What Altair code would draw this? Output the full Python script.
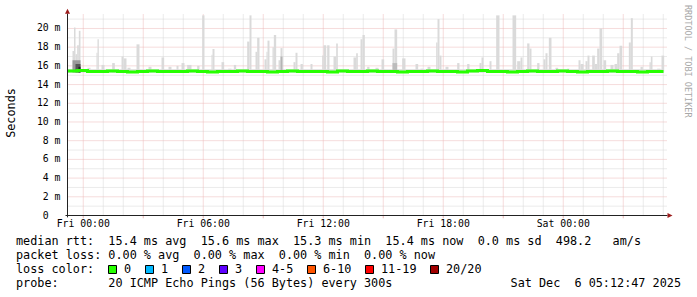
import altair as alt
import pandas as pd

# ---------------- data ----------------
window_start = "2025-12-04 23:12:47"
window_end = "2025-12-06 05:12:47"
x_label_times = ["2025-12-05 00:00", "2025-12-05 06:00", "2025-12-05 12:00",
                 "2025-12-05 18:00", "2025-12-06 00:00"]
x_label_text = ["Fri 00:00", "Fri 06:00", "Fri 12:00", "Fri 18:00", "Sat 00:00"]
y_tick_values = [0, 2, 4, 6, 8, 10, 12, 14, 16, 18, 20]
y_tick_text = ["0", "2 m", "4 m", "6 m", "8 m", "10 m", "12 m", "14 m", "16 m", "18 m", "20 m"]
y_max = 21.6

# smoke (light grey): minutes after window start, top in ms
smoke_start = [15, 19.5, 24, 29, 34, 60, 87, 90, 102, 134,
               162, 168, 180, 207, 243, 282, 303, 327, 342, 359,
               389, 404, 432, 435, 462, 482, 499, 539, 546, 564,
               569, 591, 597, 600, 615, 619, 633, 639, 678, 684,
               699, 729, 764, 768, 779, 798, 806, 858, 866, 879,
               885, 899, 924, 942, 975, 981, 1004, 1044, 1059, 1080,
               1106, 1110, 1116, 1134, 1169, 1199, 1236, 1242, 1266, 1286,
               1335, 1349, 1359, 1379, 1386, 1409, 1428, 1434, 1444, 1464,
               1499, 1533, 1539, 1554, 1560, 1574, 1582, 1589, 1596, 1608,
               1629, 1641, 1649, 1656, 1684, 1690, 1719, 1746, 1750, 1769,
               1782]
smoke_end = [19.5, 24, 29, 34, 39, 69, 90, 94, 111, 142,
             168, 177, 189, 216, 252, 290, 312, 333, 351, 372,
             396, 411, 435, 441, 470, 492, 506, 546, 552, 569,
             576, 597, 600, 606, 619, 626, 639, 645, 684, 690,
             706, 735, 768, 776, 786, 806, 811, 866, 871, 885,
             892, 906, 933, 950, 981, 989, 1014, 1052, 1068, 1089,
             1110, 1116, 1122, 1143, 1176, 1206, 1242, 1248, 1272, 1296,
             1346, 1359, 1365, 1386, 1392, 1416, 1434, 1440, 1452, 1472,
             1506, 1539, 1548, 1560, 1566, 1582, 1589, 1596, 1604, 1616,
             1638, 1649, 1656, 1664, 1690, 1696, 1726, 1750, 1755, 1779,
             1790]
smoke_top = [17.6, 20.1, 17.25, 18.2, 19.75, 15.8, 17.4, 18.85, 16.1, 16.3,
             17.0, 16.8, 15.8, 18.3, 15.9, 16.9, 15.9, 16.0, 16.3, 16.1,
             16.0, 21.4, 17.2, 17.8, 16.4, 15.7, 16.1, 18.6, 21.4, 17.5,
             19.0, 16.7, 17.5, 18.7, 18.0, 19.3, 16.6, 17.9, 16.4, 17.4,
             16.2, 16.2, 17.1, 18.2, 18.2, 17.0, 18.4, 16.9, 17.35, 18.85,
             19.3, 15.9, 15.8, 16.7, 17.85, 19.9, 16.8, 16.2, 15.7, 15.9,
             18.5, 21.0, 17.1, 15.9, 16.3, 16.2, 16.3, 16.9, 16.5, 21.4,
             21.4, 16.5, 16.9, 18.4, 17.85, 16.3, 16.7, 17.35, 19.0, 15.8,
             15.7, 16.6, 16.2, 16.5, 17.1, 17.1, 16.2, 17.85, 20.0, 16.6,
             16.1, 16.2, 17.35, 18.15, 18.5, 21.1, 15.9, 16.4, 17.0, 15.7,
             17.1]
smoke_floor = 15.3
smoke_base_top = 15.65
data_end_min = 1788

# darker smoke (inner percentiles)
dark_start = [15, 24, 33, 639, 975]
dark_end = [39, 39, 39, 645, 989]
dark_top = [16.6, 16.2, 15.9, 17.0, 16.3]
dark_shade = ["#9a9a9a", "#555555", "#222222", "#b4b4b4", "#bcbcbc"]

# median rtt, 30-minute steps
median_ms = [15.45, 15.5, 15.4, 15.4, 15.45, 15.4, 15.35, 15.4, 15.45, 15.4,
             15.4, 15.4, 15.45, 15.4, 15.35, 15.4, 15.4, 15.45, 15.4, 15.4,
             15.35, 15.4, 15.45, 15.4, 15.4, 15.4, 15.35, 15.45, 15.4, 15.4,
             15.45, 15.4, 15.4, 15.35, 15.4, 15.4, 15.45, 15.4, 15.4, 15.35,
             15.45, 15.5, 15.4, 15.4, 15.35, 15.4, 15.45, 15.4, 15.4, 15.45,
             15.4, 15.35, 15.4, 15.4, 15.45, 15.4, 15.4, 15.35, 15.4, 15.4]

rtt_label = "median rtt:"
rtt_stats = ["15.4 ms avg", "15.6 ms max", "15.3 ms min", "15.4 ms now", "0.0 ms sd", "498.2"]
rtt_unit = "am/s"
loss_label = "packet loss:"
loss_stats = ["0.00 % avg", "0.00 % max", "0.00 % min", "0.00 % now"]
color_label = "loss color:"
loss_bins = ["0", "1", "2", "3", "4-5", "6-10", "11-19", "20/20"]
loss_colors = ["#26ff00", "#00b8ff", "#0059ff", "#5e00ff", "#ff00ff", "#ff5500", "#ff0000", "#a10000"]
probe_label = "probe:"
probe_text = "20 ICMP Echo Pings (56 Bytes) every 300s"
stamp_text = "Sat Dec  6 05:12:47 2025"
watermark = "RRDTOOL / TOBI OETIKER"
y_title = "Seconds"

# ---------------- layout / style ----------------
PAD_L, PAD_T = 67.5, 13.5
W, H = 600, 202
MONO = "DejaVu Sans Mono"
CW = 7.1          # legend char advance
LEG = 11.8        # legend font size
AXF = 9.8         # axis font size
ACW = 5.9         # axis char advance
GRID = "#d6d6d6"
MGRID = "#ecb8b8"
ARROW = "#9c1c1c"
AXIS = "#222222"
NB = "\u00a0"

t0 = pd.Timestamp(window_start)
span = (pd.Timestamp(window_end) - t0).total_seconds() / 60.0
XS = alt.Scale(domain=[0, span], nice=False, zero=False)
YS = alt.Scale(domain=[0, y_max], nice=False, zero=False)

def minutes(ts):
    return (pd.Timestamp(ts) - t0).total_seconds() / 60.0

def nb(s):
    return s.replace(" ", NB)

first_hour = minutes(x_label_times[0])
hours = []
k = 0
while first_hour + 60 * k <= span:
    hours.append(first_hour + 60 * k)
    k += 1
grid_v = pd.DataFrame({"t": hours, "major": [i % 3 == 0 for i in range(len(hours))]})
grid_h = pd.DataFrame({"v": list(range(1, 22))})
grid_h["major"] = grid_h["v"] % 2 == 0

smoke = pd.DataFrame({"s": smoke_start, "e": smoke_end, "top": smoke_top})
smoke["low"] = smoke_floor
dark = pd.DataFrame({"s": dark_start, "e": dark_end, "top": dark_top, "c": dark_shade})
dark["low"] = smoke_floor
base = pd.DataFrame({"s": [0], "e": [data_end_min], "low": [smoke_floor], "top": [smoke_base_top]})
med = pd.DataFrame({"t": [30 * i for i in range(len(median_ms))] + [data_end_min],
                    "v": median_ms + [median_ms[-1]]})
xlab = pd.DataFrame({"t": [minutes(s) for s in x_label_times], "lab": x_label_text})
# labels are laid out as "%s %s" with an empty unit for zero -> left edge shared with "2 m"
ylab = pd.DataFrame({"v": y_tick_values, "lab": [nb(s) for s in y_tick_text]})
ylab["pad"] = [0 if " " in s else 2 for s in y_tick_text]
one = pd.DataFrame({"k": [0]})

def txt(s, X, Y, size=LEG, align="left", baseline="alphabetic", color="#000000", angle=0, font=MONO):
    return alt.Chart(one).mark_text(text=nb(s), align=align, baseline=baseline, font=font,
                                    fontSize=size, color=color, angle=angle).encode(
        x=alt.value(X - PAD_L), y=alt.value(Y - PAD_T))

layers = []
# grid
for df_major, col in [(False, GRID), (True, MGRID)]:
    layers.append(alt.Chart(grid_v[grid_v["major"] == df_major]).mark_rule(
        color=col, strokeDash=[1, 1], strokeWidth=1).encode(
        x=alt.X("t:Q", scale=XS, axis=None),
        y=alt.YDatum(0, scale=YS, axis=None), y2=alt.Y2Datum(y_max)))
    layers.append(alt.Chart(grid_h[grid_h["major"] == df_major]).mark_rule(
        color=col, strokeDash=[1, 1], strokeWidth=1).encode(
        y=alt.Y("v:Q", scale=YS, axis=None),
        x=alt.XDatum(0, scale=XS, axis=None), x2=alt.X2Datum(span)))
# small red ticks below x axis
layers.append(alt.Chart(grid_v[grid_v["major"]]).mark_rule(color=MGRID, strokeWidth=1).encode(
    x=alt.X("t:Q", scale=XS, axis=None),
    y=alt.YDatum(0, scale=YS, axis=None), y2=alt.Y2Datum(-0.3)))
# smoke
layers.append(alt.Chart(base).mark_rect(color="#dadada").encode(
    x=alt.X("s:Q", scale=XS, axis=None), x2="e:Q",
    y=alt.Y("low:Q", scale=YS, axis=None), y2="top:Q"))
layers.append(alt.Chart(smoke).mark_rect(color="#dadada").encode(
    x=alt.X("s:Q", scale=XS, axis=None), x2="e:Q",
    y=alt.Y("low:Q", scale=YS, axis=None), y2="top:Q"))
layers.append(alt.Chart(dark).mark_rect().encode(
    x=alt.X("s:Q", scale=XS, axis=None), x2="e:Q",
    y=alt.Y("low:Q", scale=YS, axis=None), y2="top:Q",
    color=alt.Color("c:N", scale=None)))
# median
layers.append(alt.Chart(med).mark_line(color="#26ff00", strokeWidth=3, interpolate="step-after").encode(
    x=alt.X("t:Q", scale=XS, axis=None), y=alt.Y("v:Q", scale=YS, axis=None)))
# axes lines
layers.append(alt.Chart(one).mark_rule(color=AXIS, strokeWidth=1).encode(
    x=alt.XDatum(-6, scale=XS, axis=None), x2=alt.X2Datum(span),
    y=alt.YDatum(0, scale=YS, axis=None)))
layers.append(alt.Chart(one).mark_rule(color=AXIS, strokeWidth=1).encode(
    x=alt.XDatum(0, scale=XS, axis=None),
    y=alt.YDatum(-0.2, scale=YS, axis=None), y2=alt.Y2Datum(y_max)))
# arrows
layers.append(alt.Chart(one).mark_point(shape="M0,-1L1,1L-1,1Z", filled=True, size=25, color=ARROW,
                                         opacity=1, strokeWidth=0).encode(
    x=alt.XDatum(0, scale=XS, axis=None), y=alt.YDatum(21.83, scale=YS, axis=None)))
layers.append(alt.Chart(one).mark_point(shape="M1,0L-1,-1L-1,1Z", filled=True, size=25, color=ARROW,
                                         opacity=1, strokeWidth=0).encode(
    x=alt.XDatum(span + 7.5, scale=XS, axis=None), y=alt.YDatum(0, scale=YS, axis=None)))
# x labels
layers.append(alt.Chart(xlab).mark_text(font=MONO, fontSize=AXF, align="center", baseline="alphabetic",
                                        dy=11.5, color="#000000").encode(
    x=alt.X("t:Q", scale=XS, axis=None), y=alt.YDatum(0, scale=YS, axis=None), text="lab:N"))
# y labels (right-aligned; the bare zero keeps room for the missing unit)
for pad in sorted(set(ylab["pad"])):
    layers.append(alt.Chart(ylab[ylab["pad"] == pad]).mark_text(
        font=MONO, fontSize=AXF, align="right", baseline="middle",
        dx=-7 - pad * ACW, color="#000000").encode(
        y=alt.Y("v:Q", scale=YS, axis=None), x=alt.XDatum(0, scale=XS, axis=None), text="lab:N"))
# y title
layers.append(txt(y_title, 11, 113, align="center", baseline="middle", angle=270))

# legend lines
L1 = rtt_label.ljust(13) + "  ".join(rtt_stats) + "   " + rtt_unit
L2 = loss_label.ljust(13) + "  ".join(loss_stats)
layers.append(txt(L1, 16, 245))
layers.append(txt(L2, 16, 259))
layers.append(txt(color_label, 16, 273))
bx = 108.5
for lab, col in zip(loss_bins, loss_colors):
    layers.append(alt.Chart(one).mark_rect(fill=col, stroke="#000000", strokeWidth=1).encode(
        x=alt.value(bx - PAD_L), x2=alt.value(bx + 8 - PAD_L),
        y=alt.value(265.5 - PAD_T), y2=alt.value(273.5 - PAD_T)))
    layers.append(txt(lab, bx + 15.5, 273))
    bx = round(bx + 16 + CW * len(lab) + 14 - 0.5) + 0.5
layers.append(txt(probe_label.ljust(13) + probe_text, 16, 287))
layers.append(txt(stamp_text, 681, 287, align="right"))
layers.append(txt(watermark, 687.5, 5, size=8.5, baseline="middle", color="#a8a8a8", angle=90))

chart = alt.layer(*layers).properties(
    width=W, height=H, autosize="none",
    padding={"left": PAD_L, "top": PAD_T, "right": 697 - PAD_L - W, "bottom": 297 - PAD_T - H},
    background="#ffffff",
).configure_view(stroke=None)

chart.save("out.html", embed_options={"renderer": "svg", "actions": False})
